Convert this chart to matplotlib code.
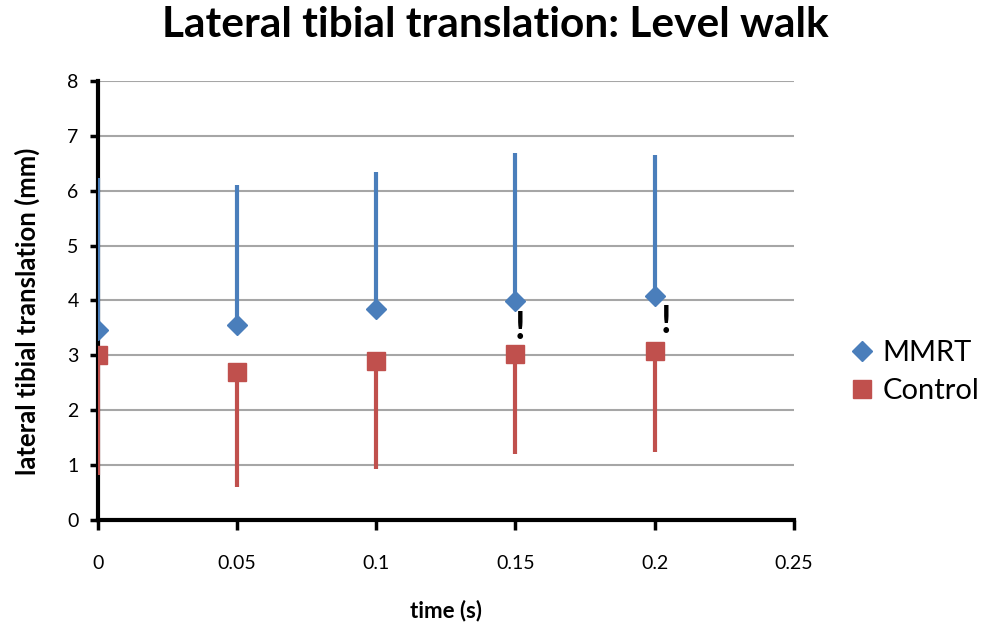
import matplotlib
matplotlib.use("Agg")
import matplotlib.pyplot as plt
from matplotlib.lines import Line2D

plt.rcParams['font.family'] = ['Lato', 'DejaVu Sans']

# values
time_s = [0, 0.05, 0.1, 0.15, 0.2]
mmrt_mean = [3.46, 3.55, 3.84, 3.99, 4.08]
mmrt_err = [2.77, 2.55, 2.50, 2.69, 2.57]      # upper error only
control_mean = [3.00, 2.70, 2.90, 3.02, 3.08]
control_err = [2.18, 2.10, 1.97, 1.82, 1.84]    # lower error only
flag_x = [0.1515, 0.2042]
flag_y = [3.5, 3.6]

blue = '#4a7ebb'
red = '#c0504d'

fig = plt.figure(figsize=(9.94, 6.28), dpi=100)
ax = fig.add_axes([0.0986, 0.172, 0.700, 0.699])

ax.errorbar(time_s, mmrt_mean, yerr=[[0] * len(mmrt_err), mmrt_err],
            fmt='D', color=blue, ecolor=blue, elinewidth=3, capsize=0,
            markersize=10, zorder=4)
ax.errorbar(time_s, control_mean, yerr=[control_err, [0] * len(control_err)],
            fmt='s', color=red, ecolor=red, elinewidth=3, capsize=0,
            markersize=13, zorder=3)

for x, y in zip(flag_x, flag_y):
    ax.text(x, y, '!', fontsize=27, fontweight='bold', ha='center',
            va='center', color='black', zorder=5)

ax.set_xlim(0, 0.25)
ax.set_ylim(0, 8)
ax.set_xticks([0, 0.05, 0.1, 0.15, 0.2, 0.25])
ax.set_xticklabels(['0', '0.05', '0.1', '0.15', '0.2', '0.25'])
ax.set_yticks(range(0, 9))
ax.yaxis.grid(True, color='#a6a6a6', linewidth=1.5)
ax.set_axisbelow(True)

for s in ['top', 'right']:
    ax.spines[s].set_visible(False)
for s in ['left', 'bottom']:
    ax.spines[s].set_linewidth(3)
    ax.spines[s].set_color('black')
ax.tick_params(axis='x', direction='out', length=7, width=2.5, pad=18,
               labelsize=14)
ax.tick_params(axis='y', direction='out', length=6, width=2.5, pad=8,
               labelsize=14)

ax.set_xlabel('time (s)', fontsize=16, fontweight='bold', labelpad=20)
ax.set_ylabel('lateral tibial translation (mm)', fontsize=18.5,
              fontweight='bold')
ax.yaxis.set_label_coords(-0.083, 0.476)
fig.suptitle('Lateral tibial translation: Level walk', fontsize=30.5,
             fontweight='bold', x=0.498, y=0.99)

handles = [Line2D([], [], marker='D', color=blue, linestyle='none', markersize=10),
           Line2D([], [], marker='s', color=red, linestyle='none', markersize=13)]
ax.legend(handles, ['MMRT', 'Control'], loc='center left',
          bbox_to_anchor=(1.06, 0.337), frameon=False,
          fontsize=21, handletextpad=0.2, labelspacing=0.4,
          handlelength=1.0, borderaxespad=0)

fig.savefig('out.png', dpi=100)
